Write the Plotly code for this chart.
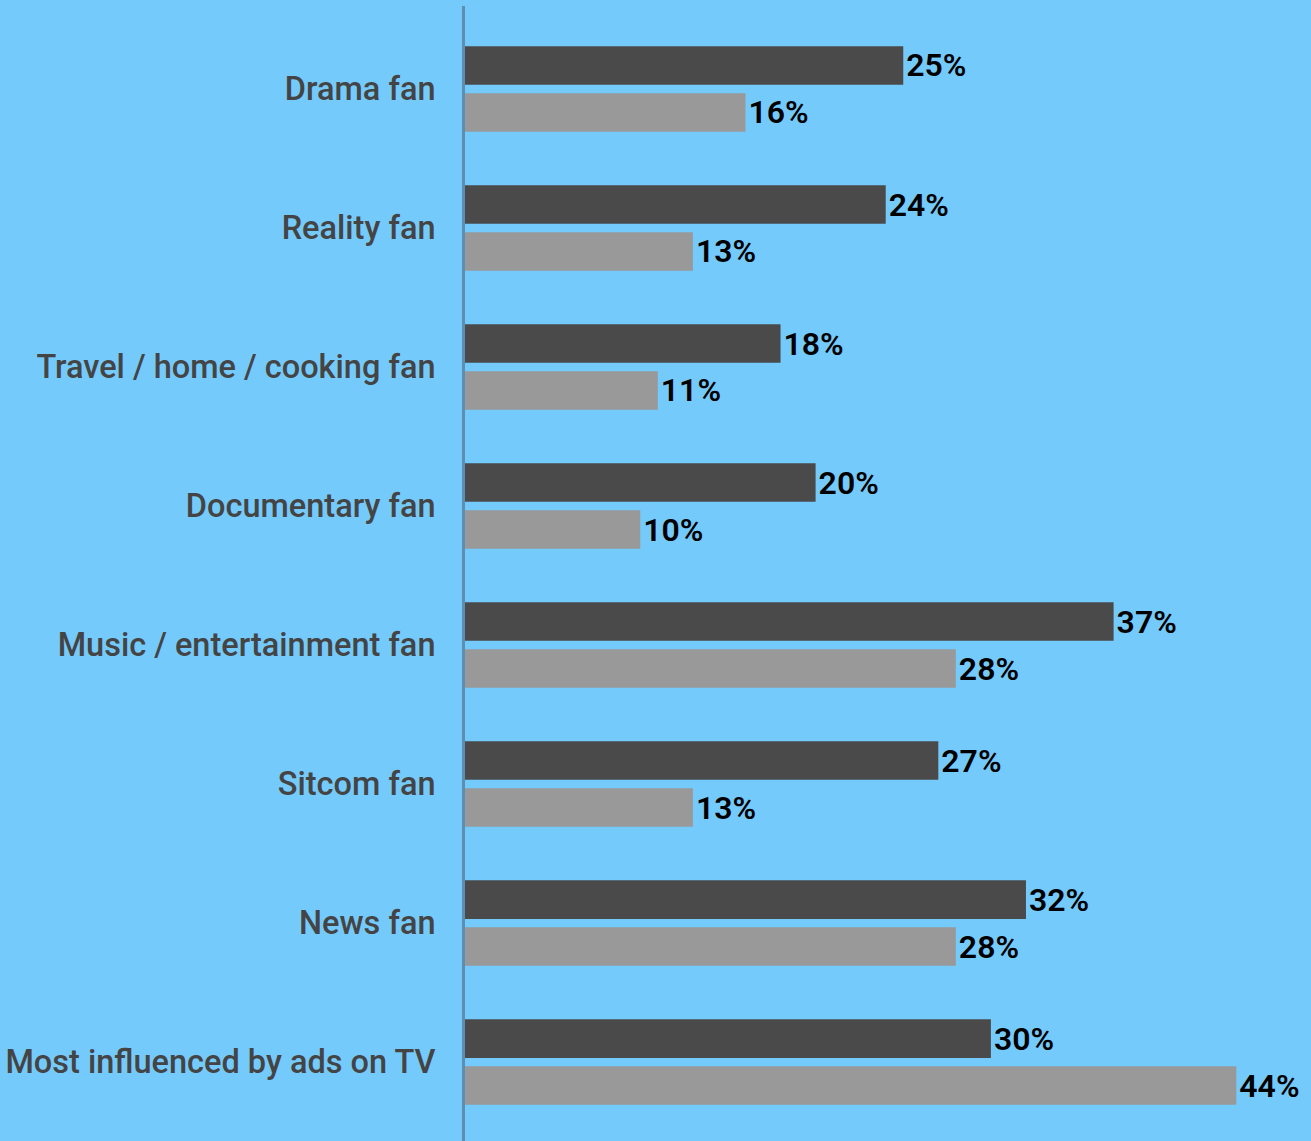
import plotly.graph_objects as go

# Categories (top to bottom) and the two series of percentages
categories = [
    "Drama fan",
    "Reality fan",
    "Travel / home / cooking fan",
    "Documentary fan",
    "Music / entertainment fan",
    "Sitcom fan",
    "News fan",
    "Most influenced by ads on TV",
]
series_dark = [25, 24, 18, 20, 37, 27, 32, 30]
series_light = [16, 13, 11, 10, 28, 13, 28, 44]

BG = "#75CAFC"
DARK = "#4A4A4A"
LIGHT = "#999999"
FONT = "Roboto"

fig = go.Figure()
for name, vals, color in [("Segment", series_dark, DARK), ("Average", series_light, LIGHT)]:
    fig.add_trace(go.Bar(
        y=categories,
        x=vals,
        orientation="h",
        name=name,
        marker=dict(color=color, line=dict(width=0)),
        text=[f"{v}%" for v in vals],
        textposition="outside",
        textfont=dict(family=FONT, size=32, color="#000000", weight=600),
        cliponaxis=False,
    ))

fig.update_layout(
    width=1311,
    height=1141,
    margin=dict(l=465, r=0, t=6, b=0),
    paper_bgcolor=BG,
    plot_bgcolor=BG,
    barmode="group",
    bargap=0.324,
    bargroupgap=0.177,
    showlegend=False,
    font=dict(family=FONT),
)
fig.update_xaxes(
    range=[0, 48.26],
    visible=False,
    showgrid=False,
    zeroline=False,
)
fig.update_yaxes(
    categoryorder="array",
    categoryarray=categories,
    range=[7.568, -0.597],
    showgrid=False,
    zeroline=False,
    showline=True,
    linecolor="#5F8FAE",
    linewidth=3,
    ticks="",
    ticklabelstandoff=20,
    tickfont=dict(family=FONT, size=32.5, color="#444444", weight=500),
)

fig.write_html("out.html")
